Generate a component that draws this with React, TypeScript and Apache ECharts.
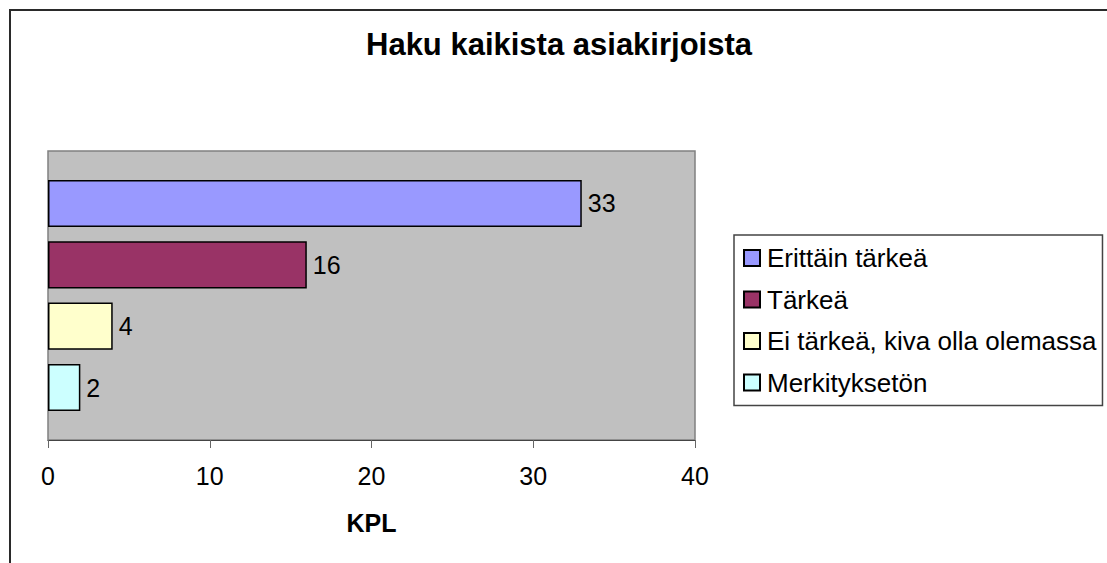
import React, { useEffect, useRef } from "react";
import * as echarts from "echarts";

const titleText = "Haku kaikista asiakirjoista";
const axisName = "KPL";
const seriesNames = ["Erittäin tärkeä", "Tärkeä", "Ei tärkeä, kiva olla olemassa", "Merkityksetön"];
const seriesValues = [33, 16, 4, 2];
const seriesColors = ["#9999FF", "#993366", "#FFFFCC", "#CCFFFF"];
const categories = [""];

const FONT = "'Liberation Sans', Arial, sans-serif";

export default function App() {
  const ref = useRef<HTMLDivElement>(null);
  useEffect(() => {
    if (!ref.current) return;
    const chart = echarts.init(ref.current, undefined, { renderer: "svg" });
    chart.setOption({
      animation: false,
      backgroundColor: "#ffffff",
      textStyle: { fontFamily: FONT },
      title: {
        text: titleText,
        left: 559,
        top: 29,
        textAlign: "center",
        padding: 0,
        textStyle: { fontFamily: FONT, fontSize: 31, fontWeight: "bold", color: "#000" },
      },
      graphic: [
        {
          type: "rect",
          shape: { x: 10, y: 10, width: 1300, height: 800 },
          style: { fill: "none", stroke: "#2a2a2a", lineWidth: 2 },
          silent: true,
        },
      ],
      legend: {
        orient: "vertical",
        left: 734,
        top: 235,
        padding: [10, 6, 10, 9],
        itemGap: 15.5,
        itemWidth: 16,
        itemHeight: 16,
        icon: "rect",
        backgroundColor: "#ffffff",
        borderColor: "#444",
        borderWidth: 1.5,
        textStyle: { fontFamily: FONT, fontSize: 26, color: "#000", padding: [0, 0, 0, 2] },
        data: seriesNames,
      },
      grid: {
        left: 48,
        top: 151,
        width: 647,
        height: 289,
        show: true,
        backgroundColor: "#C0C0C0",
        borderColor: "#808080",
        borderWidth: 1.5,
        containLabel: false,
      },
      xAxis: {
        type: "value",
        min: 0,
        max: 40,
        interval: 10,
        name: axisName,
        nameLocation: "middle",
        nameGap: 70,
        nameTextStyle: { fontFamily: FONT, fontSize: 25, fontWeight: "bold", color: "#000" },
        axisLine: { show: true, lineStyle: { color: "#444", width: 1 } },
        axisTick: { show: true, length: 8, lineStyle: { color: "#666", width: 1 } },
        axisLabel: { fontFamily: FONT, fontSize: 25, color: "#000", margin: 23 },
        splitLine: { show: false },
      },
      yAxis: {
        type: "category",
        data: categories,
        axisLine: { show: false },
        axisTick: { show: false },
        axisLabel: { show: false },
      },
      series: seriesNames.map((name, i) => ({
        name,
        type: "bar",
        data: [seriesValues[i]],
        barGap: "30%",
        barCategoryGap: "20%",
        itemStyle: { color: seriesColors[i], borderColor: "#000", borderWidth: 1.5 },
        label: {
          show: true,
          position: "right",
          distance: 6,
          fontFamily: FONT,
          fontSize: 25,
          color: "#000",
        },
      })),
    });
    return () => chart.dispose();
  }, []);
  return (
    <div
      ref={ref}
      style={{ position: "fixed", left: 0, top: 0, width: 1107, height: 563 }}
    />
  );
}
